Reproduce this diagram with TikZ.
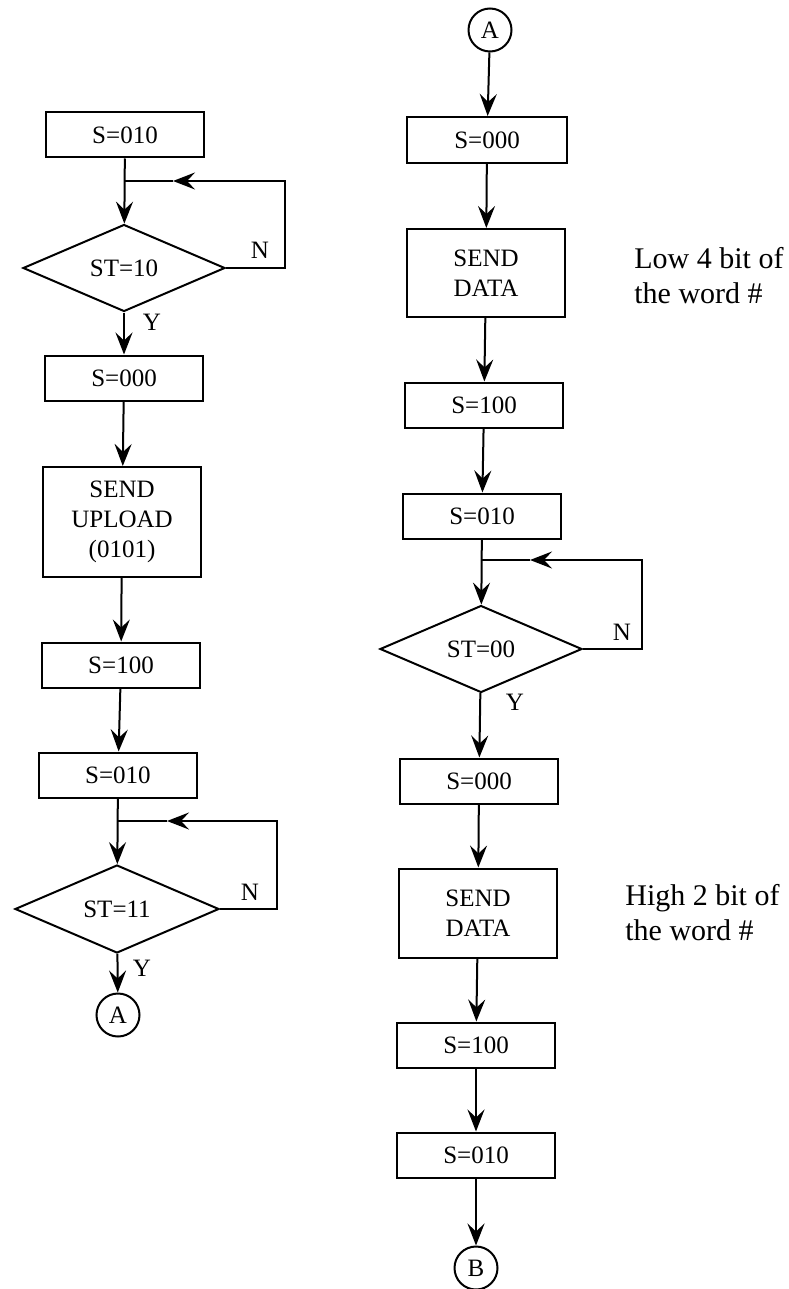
\documentclass[tikz,border=0pt]{standalone}
\usepackage{fontspec}
\setmainfont{Liberation Serif}
\usetikzlibrary{shapes.geometric,arrows.meta}
\begin{document}
\begin{tikzpicture}[x=1pt,y=-1pt,
  line width=2pt,
  every node/.style={font=\fontsize{25}{30}\selectfont},
  sbox/.style={draw,rectangle,minimum width=158pt,minimum height=45pt,inner sep=0pt,align=center},
  dbox/.style={diamond,draw,minimum width=202pt,minimum height=87pt,inner sep=0pt,aspect=2.3},
  conn/.style={draw,circle,minimum size=43pt,inner sep=0pt},
  arr/.style={-{Stealth[length=22pt,width=17pt,inset=8pt]}},
  note/.style={anchor=west,align=left,font=\fontsize{30}{35}\selectfont},
  lbl/.style={font=\fontsize{25}{30}\selectfont}]
\useasboundingbox (0,0) rectangle (788,1289);
% left column
\node[sbox] (l1) at (125,135) {S=010};
\node[dbox] (ld1) at (124,268) {ST=10};
\node[sbox] (l2) at (124,378) {S=000};
\node[sbox,minimum height=110pt] (l3) at (122,522) {SEND\\UPLOAD\\(0101)};
\node[sbox] (l4) at (121,665) {S=100};
\node[sbox] (l5) at (118,775) {S=010};
\node[dbox,minimum width=204pt,minimum height=88pt] (ld2) at (117,909) {ST=11};
\node[conn] (lA) at (118,1015) {A};
\coordinate (j1) at (124.5,181);
\coordinate (c1) at (285,181);
\coordinate (t1) at (173,181);
\coordinate (j2) at (117.5,821);
\coordinate (c2) at (277,821);
\coordinate (t2) at (167,821);
\draw[arr] (l1) -- (ld1);
\draw[arr] (ld1.east) -| (c1) -- (t1);
\draw (t1) -- (j1);
\draw[arr] (ld1) -- (l2);
\draw[arr] (l2) -- (l3);
\draw[arr] (l3) -- (l4);
\draw[arr] (l4) -- (l5);
\draw[arr] (l5) -- (ld2);
\draw[arr] (ld2.east) -| (c2) -- (t2);
\draw (t2) -- (j2);
\draw[arr] (ld2) -- (lA);
\node[lbl] (n1) at (260,250) {N};
\node[lbl] (y1) at (152,322) {Y};
\node[lbl] (n2) at (250,892) {N};
\node[lbl] (y2) at (142,968) {Y};
% right column
\node[conn] (rA) at (490,30) {A};
\node[sbox,minimum width=160pt,minimum height=46pt] (r1) at (487,140) {S=000};
\node[sbox,minimum height=88pt] (r2) at (486,273) {SEND\\DATA};
\node[sbox] (r3) at (484,405) {S=100};
\node[sbox] (r4) at (482,516) {S=010};
\node[dbox] (rd) at (481,649) {ST=00};
\node[sbox] (r5) at (479,781) {S=000};
\node[sbox,minimum height=89pt] (r6) at (478,913) {SEND\\DATA};
\node[sbox] (r7) at (476,1045) {S=100};
\node[sbox] (r8) at (476,1155) {S=010};
\node[conn] (rB) at (476,1268) {B};
\coordinate (j3) at (481.5,560);
\coordinate (c3) at (642,560);
\coordinate (t3) at (530,560);
\draw[arr] (rA) -- (r1);
\draw[arr] (r1) -- (r2);
\draw[arr] (r2) -- (r3);
\draw[arr] (r3) -- (r4);
\draw[arr] (r4) -- (rd);
\draw[arr] (rd.east) -| (c3) -- (t3);
\draw (t3) -- (j3);
\draw[arr] (rd) -- (r5);
\draw[arr] (r5) -- (r6);
\draw[arr] (r6) -- (r7);
\draw[arr] (r7) -- (r8);
\draw[arr] (r8) -- (rB);
\node[lbl] (n3) at (622,632) {N};
\node[lbl] (y3) at (515,702) {Y};
\node[note] (w1) at (630,276) {Low 4 bit of\\the word \#};
\node[note] (w2) at (621,913) {High 2 bit of\\the word \#};
\end{tikzpicture}
\end{document}
